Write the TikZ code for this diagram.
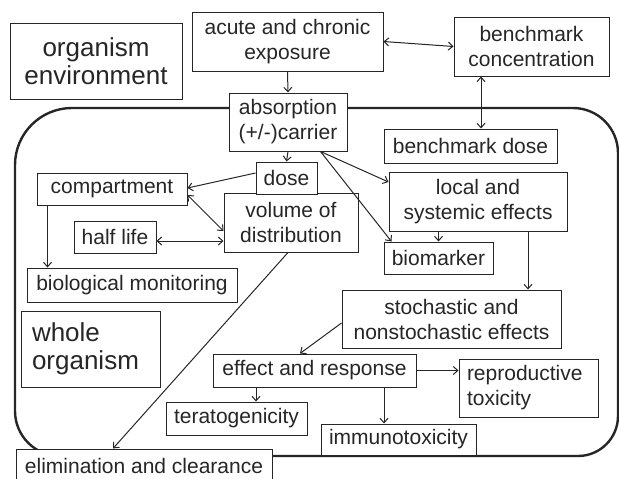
\documentclass[tikz,border=0pt]{standalone}
\usepackage{fontspec}
\setmainfont{Liberation Sans}
\usetikzlibrary{arrows.meta,calc}
\definecolor{ink}{HTML}{262626}
\begin{document}
\begin{tikzpicture}[x=1pt,y=-1pt,
  box/.style={draw=ink, line width=1pt, fill=white, inner sep=0pt, align=center,
    text=ink, font=\fontsize{21}{25}\selectfont},
  bigbox/.style={box, font=\fontsize{26}{28}\selectfont},
  link/.style={draw=ink, line width=1pt, -{Straight Barb[length=4.5pt,width=8pt]}},
  link2/.style={link, {Straight Barb[length=4.5pt,width=8pt]}-{Straight Barb[length=4.5pt,width=8pt]}},
  organism/.style={draw=ink, line width=2.4pt}]
\useasboundingbox (0,0) rectangle (619,479);

% boundary of the whole organism (y axis points down)
\draw[organism] (15,300) -- (15,165) arc[start angle=180, end angle=270, radius=57]
  -- (573,108) arc[start angle=270, end angle=360, radius=45]
  -- (618,416) arc[start angle=0, end angle=90, radius=40]
  -- (60,456) arc[start angle=90, end angle=180, radius=45] -- cycle;

% boxes
\node[bigbox, minimum width=172, minimum height=76] (env) at (96,61) {organism\\environment};
\node[box, minimum width=191, minimum height=59] (acute) at (287.5,41.5) {acute and chronic\\exposure};
\node[box, minimum width=155, minimum height=59] (bconc) at (531.5,46.5) {benchmark\\concentration};
\node[box, minimum width=118, minimum height=58] (absorb) at (288,122) {absorption\\(+/-)carrier};
\node[box, minimum width=173, minimum height=34] (bdose) at (470.5,146) {benchmark dose};
\node[box, minimum width=178, minimum height=59] (local) at (478,201.5) {local and\\systemic effects};
\node[box, minimum width=109, minimum height=32] (biomarker) at (438.5,258) {biomarker};
\node[box, minimum width=219, minimum height=58] (stoch) at (451.5,319) {stochastic and\\nonstochastic effects};
\node[box, minimum width=134, minimum height=59] (vol) at (291,222.5) {volume of\\distribution};
\node[box, minimum width=61, minimum height=32] (dose) at (286.5,178) {dose};
\node[box, minimum width=150, minimum height=32] (comp) at (112,189) {compartment};
\node[box, minimum width=82, minimum height=32] (half) at (115,237) {half life};
\node[box, minimum width=210, minimum height=34] (biomon) at (132,285) {biological monitoring};
\node[bigbox, align=left, text width=117, inner xsep=11, minimum height=76] (whole) at (90.5,349) {whole\\organism};
\node[box, minimum width=256, minimum height=34] (elim) at (144,466) {elimination and clearance};
\node[box, minimum width=203, minimum height=33] (effect) at (314.5,370.5) {effect and response};
\node[box, minimum width=141, minimum height=33] (terato) at (236.5,418.5) {teratogenicity};
\node[box, minimum width=155, minimum height=31] (immuno) at (398.5,439.5) {immunotoxicity};
\node[box, align=left, text width=123, inner xsep=8, minimum height=58] (repro) at (528.5,388) {reproductive\\toxicity};

% connectors
\draw[link2] (acute.east) -- (bconc.west);
\draw[link] (acute.south) -- (absorb.north);
\draw[link2] ([xshift=-50.5]bconc.south) -- ([xshift=10.5]bdose.north);
\draw[link] (absorb.south) -- (dose.north);
\draw[link] ($(absorb.south east)+(-27,0)$) -- ($(local.west)+(0,-19.5)$);
\draw[link] ($(absorb.south east)+(-27,0)$) -- ($(biomarker.north west)+(8,0)$);
\draw[link] (local.south -| biomarker.north) -- (biomarker.north);
\draw[link] ([xshift=50]local.south) -- ([xshift=50]local.south |- stoch.north);
\draw[link] ($(dose.west)+(0,-5)$) -- ($(comp.east)+(0,-1)$);
\draw[link2] ($(comp.east)+(0,6)$) -- ($(vol.west)+(0,8.5)$);
\draw[link2] ($(half.east)+(0,4)$) -- ($(vol.west)+(0,18.5)$);
\draw[link] ([xshift=11]comp.south west) -- ([xshift=11]comp.south west |- biomon.north);
\draw[link] ($(vol.south)+(-3,0)$) -- ($(elim.north)+(-31,0)$);
\draw[link] ($(stoch.west)+(0,4)$) -- ($(effect.north)+(-14.5,0)$);
\draw[link] ([xshift=-58.5]effect.south) -- ([xshift=-58.5]effect.south |- terato.north);
\draw[link] ([xshift=69.5]effect.south) -- ([xshift=69.5]effect.south |- immuno.north);
\draw[link] (effect.east) -- (effect.east -| repro.west);
\end{tikzpicture}
\end{document}
